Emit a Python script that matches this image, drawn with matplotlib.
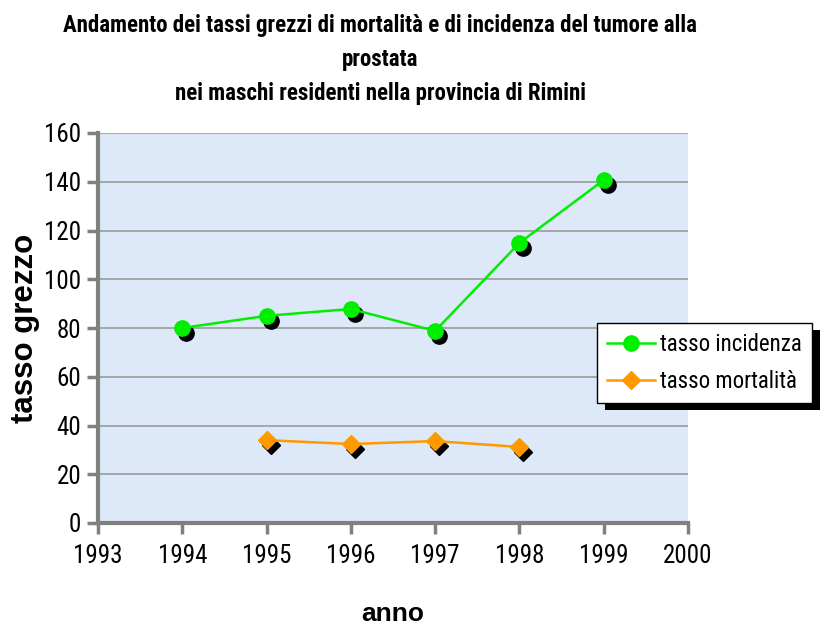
import matplotlib
matplotlib.use("Agg")
import matplotlib.pyplot as plt
import matplotlib.transforms as mtransforms
from matplotlib.patches import Rectangle

COND = ['Roboto Condensed', 'DejaVu Sans']
WIDE = ['Liberation Sans', 'DejaVu Sans']
plt.rcParams['font.family'] = COND

anni_inc = [1994, 1995, 1996, 1997, 1998, 1999]
tasso_incidenza = [80.0, 85.0, 87.8, 78.8, 114.9, 140.7]
anni_mort = [1995, 1996, 1997, 1998]
tasso_mortalita = [34.0, 32.4, 33.6, 31.2]
x_ticks = [1993, 1994, 1995, 1996, 1997, 1998, 1999, 2000]
y_ticks = [0, 20, 40, 60, 80, 100, 120, 140, 160]

W, H = 822, 627
fig = plt.figure(figsize=(W / 100, H / 100), dpi=100)
ax = fig.add_axes([98 / W, 1 - 523 / H, (688 - 98) / W, (523 - 133) / H])
ax.set_facecolor("#dde9f8")

ax.set_xlim(1993, 2000)
ax.set_ylim(0, 160)
ax.set_xticks(x_ticks)
ax.set_yticks(y_ticks)
ax.grid(axis='y', color="#9a9a9a", linewidth=1.2)
ax.set_axisbelow(True)
for s in ['top', 'right']:
    ax.spines[s].set_visible(False)
for s in ['left', 'bottom']:
    ax.spines[s].set_color("#808080")
    ax.spines[s].set_linewidth(3)
ax.tick_params(axis='both', colors="#808080", width=2.5, length=8, labelsize=18,
               labelcolor='black')
ax.tick_params(axis='x', pad=7)
ax.tick_params(axis='y', pad=4)

# drop shadows under the markers
shadow = mtransforms.offset_copy(ax.transData, fig=fig, x=4, y=-5, units='dots')
ax.plot(anni_inc, tasso_incidenza, 'o', color='black', markersize=11, transform=shadow, zorder=3)
ax.plot(anni_mort, tasso_mortalita, 'D', color='black', markersize=9.5, transform=shadow, zorder=3)
l1, = ax.plot(anni_inc, tasso_incidenza, '-o', color="#00ee00", markersize=11, linewidth=1.8,
              zorder=4, label="tasso incidenza")
l2, = ax.plot(anni_mort, tasso_mortalita, '-D', color="#ff9900", markersize=9.5, linewidth=1.8,
              zorder=4, label="tasso mortalità")

fig.text(25 / W, 1 - 328 / H, "tasso grezzo", rotation=90, ha='center', va='center',
         fontsize=22.5, fontweight='bold', family=WIDE)
fig.text(393 / W, 1 - 614 / H, "anno", ha='center', va='center',
         fontsize=19, fontweight='bold', family=WIDE)

fig.text(380 / W, 1 - 14 / H,
         "Andamento dei tassi grezzi di mortalità e di incidenza del tumore alla\nprostata\n"
         "nei maschi residenti nella provincia di Rimini",
         ha='center', va='top', fontsize=16.5, fontweight='bold', linespacing=1.6)

leg = fig.legend(handles=[l1, l2], loc='upper left', bbox_to_anchor=(597 / W, 1 - 323 / H),
                 fontsize=16.5, frameon=True, fancybox=False, framealpha=1,
                 handlelength=2.1, borderpad=0.45, labelspacing=0.6, handletextpad=0.2,
                 borderaxespad=0)
leg.get_frame().set_edgecolor('black')
leg.get_frame().set_facecolor('white')
leg.get_frame().set_linewidth(1)
leg.set_zorder(10)
fig.canvas.draw()
bb = leg.get_window_extent()
fig.patches.append(Rectangle((bb.x0 + 8, bb.y0 - 7), bb.width, bb.height, transform=None,
                             facecolor='black', edgecolor='none', zorder=9))

fig.savefig("out.png", dpi=100)
